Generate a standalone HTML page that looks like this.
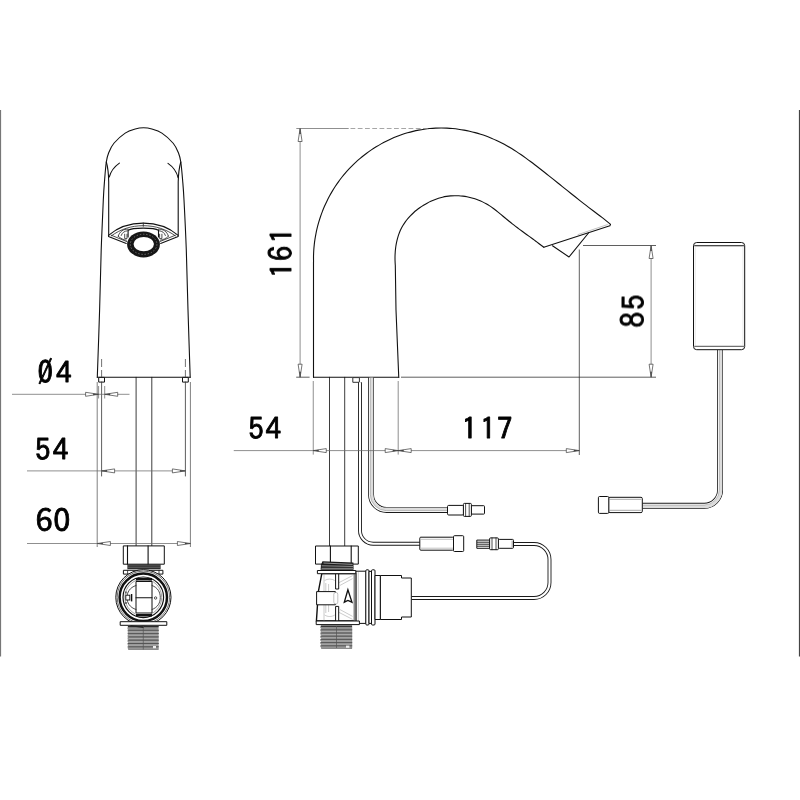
<!DOCTYPE html>
<html lang="en"><head><meta charset="utf-8"><title>Dimensions</title>
<style>
html,body{margin:0;padding:0;background:#fff;}
body{width:800px;height:800px;overflow:hidden;}
svg{display:block}
.k{fill:none;stroke:#111;stroke-width:1.1;stroke-linecap:round;stroke-linejoin:round}
.k2{fill:none;stroke:#222;stroke-width:.8;stroke-linecap:round;stroke-linejoin:round}
.w{fill:#fff;stroke:#111;stroke-width:1;stroke-linejoin:round}
.g{fill:none;stroke:#6a6a6a;stroke-width:.75}
.gd{fill:none;stroke:#888;stroke-width:.75;stroke-dasharray:4.8 2.45}
.ar{fill:#fff;stroke:#3a3a3a;stroke-width:.7;stroke-linejoin:round}
.e{fill:none;stroke:#2a2a2a;stroke-width:.75}
.t{font-family:"IPAGothic","Liberation Sans",sans-serif;font-size:31px;fill:#000;stroke:#000;stroke-width:.85px;stroke-linejoin:round;}
.cb{fill:none;stroke:#111;stroke-width:3.6;stroke-linecap:butt;stroke-linejoin:round}
.cw{fill:none;stroke:#fff;stroke-width:1.9;stroke-linecap:butt;stroke-linejoin:round}
.cm{fill:none;stroke:#999;stroke-width:.5}
</style></head><body>
<svg width="800" height="800" viewBox="0 0 800 800">
<rect width="800" height="800" fill="#fff"/>

<rect x="0" y="110" width="1.1" height="546.5" fill="#777"/>
<rect x="798.9" y="110" width="1.1" height="546.5" fill="#444"/>
<g id="front">
<path class="k" d="M136.1,377.3V546 M151.8,377.3V546" style="stroke:#333;stroke-width:.95"/>
<path class="k" d="M97.30,377.25 C97.68,366.04 98.95,331.21 99.60,310.00 C100.25,288.79 100.58,268.33 101.20,250.00 C101.82,231.67 102.73,211.67 103.30,200.00 C103.87,188.33 104.10,186.33 104.60,180.00 C105.10,173.67 105.63,166.50 106.30,162.00 C106.97,157.50 107.33,156.12 108.60,153.00 C109.87,149.88 111.13,146.57 113.90,143.25 C116.67,139.93 121.65,135.47 125.20,133.10 C128.75,130.72 132.14,129.88 135.20,129.00 C138.26,128.12 140.77,127.80 143.55,127.80 C146.33,127.80 148.84,128.12 151.90,129.00 C154.96,129.88 158.35,130.72 161.90,133.10 C165.45,135.47 170.43,139.93 173.20,143.25 C175.97,146.57 177.23,149.88 178.50,153.00 C179.77,156.12 180.12,157.50 180.80,162.00 C181.48,166.50 182.07,173.67 182.60,180.00 C183.13,186.33 183.38,188.33 184.00,200.00 C184.62,211.67 185.63,231.67 186.30,250.00 C186.97,268.33 187.35,288.79 188.00,310.00 C188.65,331.21 189.83,366.04 190.20,377.25"/>
<path class="k" d="M97.3,377.25H190.2"/>
<path class="k" d="M106.3,162 C107.8,167 108.6,174 108.7,182 V235.2"/>
<path class="k" d="M180.8,162 C179.3,167 178.4,174 178.2,182 V235.2"/>
<path class="k" d="M119.4,163.1 C114.5,166.5 110.8,171.5 109.25,177"/>
<path class="k" d="M168,163.4 C173,166.8 176.6,171.8 178.1,177.6"/>
<path class="k" d="M108.5,235.3 C118,227.2 130,223.1 143.3,223.1 C156.6,223.1 168.6,227.2 178.2,235.3 V236.6 L160.6,243.4 M108.5,235.3 V236.6 L126.3,243.4"/>
<path class="k2" d="M111.4,235.8 C120.5,229.2 131.2,225.7 143.3,225.7 C155.4,225.7 166.1,229.2 175.3,235.8"/>
<path class="k2" d="M143.3,223.1V226.3"/>
<path class="k2" d="M111.2,235.2 L126.8,241.6 M175.4,235.2 L159.9,241.6"/>
<path class="k2" d="M118.2,236.2 C119.5,231.5 123.5,228.8 128.2,229.2 M118.2,236.2 C120.5,238.6 123.5,239.8 126.4,240.2 M168.4,236.2 C167.1,231.5 163.1,228.8 158.4,229.2 M168.4,236.2 C166.1,238.6 163.1,239.8 160.2,240.2"/>
<path class="k2" d="M121.2,235.5 C122.2,232.5 124.5,231 127.3,230.8 M165.4,235.5 C164.4,232.5 162.1,231 159.3,230.8"/>
<path class="k2" d="M124.7,234.2V238.6H127V234.2 M161.9,234.2V238.6H159.6V234.2"/>
<path class="k" d="M128.1,237 V230.2 C132.5,227.4 154.1,227.4 158.5,230.2 V237"/>
<ellipse cx="143.5" cy="244.4" rx="16.4" ry="13" fill="#161616"/>
<ellipse cx="143.6" cy="244.3" rx="13.3" ry="10.1" fill="none" stroke="#777" stroke-width=".9" stroke-dasharray="1.4 1.8"/>
<ellipse cx="143.75" cy="244.1" rx="10.2" ry="7.2" fill="#fff"/>
<rect class="w" x="98.7" y="377.4" width="5.8" height="4.7" stroke-width=".8"/>
<rect class="w" x="182.5" y="377.4" width="5.8" height="4.7" stroke-width=".8"/>
<path class="gd" d="M101.6,359V377 M185.4,359V377" style="stroke:#444;stroke-dasharray:8 3"/>
<rect class="w" x="123.3" y="545.9" width="41" height="18.3"/>
<path class="k" d="M127.5,545.9V564.2 M148.1,545.9V564.2"/>
<rect x="127.4" y="564.4" width="33.2" height="4.8" fill="#2a2a2a"/>
<path d="M128,565.9H160 M128,567.6H160" stroke="#8a8a8a" stroke-width=".5"/>
<rect class="w" x="123.4" y="570.3" width="39.5" height="3.8"/>
<path class="k2" d="M127.6,570.3V574.1 M159,570.3V574.1"/>
<circle class="w" cx="143.4" cy="597.3" r="27.6"/>
<circle cx="143.4" cy="597.3" r="26.2" fill="none" stroke="#333" stroke-width=".7"/>
<circle cx="143.3" cy="597.3" r="23.7" fill="#fff" stroke="#111" stroke-width="2.5"/>
<circle cx="143.3" cy="597.3" r="20.3" fill="none" stroke="#111" stroke-width="1.2"/>
<circle cx="143.3" cy="597.3" r="18.4" fill="none" stroke="#666" stroke-width=".6"/>
<path d="M136,579.3H152 M136,615.3H152" stroke="#111" stroke-width="2.6"/>
<rect class="w" x="136" y="581.5" width="16" height="31.5"/>
<path class="k" d="M136,597.7H152"/>
<path class="k2" d="M136,585.5 C129.5,587.5 127,592.5 127,597.5 C127,602.5 129.5,607.5 136,609.5 M152,585.5 C158,587.5 160.3,592.5 160.3,597.5 C160.3,602.5 158,607.5 152,609.5"/>
<rect x="125.8" y="595.2" width="4" height="4.8" fill="#fff" stroke="#111" stroke-width=".9"/>
<path d="M131.6,594V601.4" stroke="#111" stroke-width="1.4"/>
<path d="M126,591.5V593.5 M126,602V604" stroke="#111" stroke-width="1"/>
<circle cx="155.6" cy="598" r="1.2" fill="#fff" stroke="#111" stroke-width=".7"/>
<rect class="w" x="120.2" y="621.7" width="46.6" height="3.6"/>
<path d="M127.8,626 H158.6 V649.6 H129.2 L127.4,648 L128.6,646.4 L127.4,644.8 L128.6,643.2 L127.4,641.6 L128.6,640 L127.4,638.4 L128.6,636.8 L127.4,635.2 L128.6,633.6 L127.4,632 L128.6,630.4 L127.4,628.8 Z" fill="#909090"/>
<path d="M128,626.6H158.6" stroke="#2a2a2a" stroke-width="1.2"/>
<path d="M127.6,630.30H158.8" stroke="#555" stroke-width="1"/>
<path d="M128.8,631.95H157.8" stroke="#b8b8b8" stroke-width=".7"/>
<path d="M127.6,633.60H158.8" stroke="#555" stroke-width="1"/>
<path d="M128.8,635.25H157.8" stroke="#b8b8b8" stroke-width=".7"/>
<path d="M127.6,636.90H158.8" stroke="#555" stroke-width="1"/>
<path d="M128.8,638.55H157.8" stroke="#b8b8b8" stroke-width=".7"/>
<path d="M127.6,640.20H158.8" stroke="#555" stroke-width="1"/>
<path d="M128.8,641.85H157.8" stroke="#b8b8b8" stroke-width=".7"/>
<path d="M127.6,643.50H158.8" stroke="#555" stroke-width="1"/>
<path d="M128.8,645.15H157.8" stroke="#b8b8b8" stroke-width=".7"/>
<path d="M127.6,646.80H158.8" stroke="#555" stroke-width="1"/>
<path d="M128.8,648.45H157.8" stroke="#b8b8b8" stroke-width=".7"/>
<path d="M128,649.2H158.6" stroke="#666" stroke-width=".9"/>
<path d="M143.3,626V649.5" stroke="#555" stroke-width=".7"/>
<path d="M130.5,625.6 L143.5,627.4" stroke="#222" stroke-width="1.3"/>
<rect x="153" y="646" width="3" height="2.2" fill="#eee"/>
</g>
<g id="fdim">
<path class="g" d="M97.2,382V547 M190.4,382V547" style="stroke:#808080;stroke-width:1"/>
<path class="k2" d="M101.6,382V476 M185.4,382V476" style="stroke:#333"/>
<path class="g" d="M98.6,386V398.5 M104.7,386V398.5"/>
<path class="g" d="M12,394.3H129.5"/>
<polygon class="ar" points="98.60,394.30 85.60,392.30 85.60,396.30"/><polygon points="98.60,394.30 93.14,393.46 93.14,395.14" fill="#444"/>
<polygon class="ar" points="104.70,394.30 117.70,392.30 117.70,396.30"/><polygon points="104.70,394.30 110.16,393.46 110.16,395.14" fill="#444"/>
<path class="g" d="M27,470.9H185.4"/>
<polygon class="ar" points="101.60,470.90 114.60,468.90 114.60,472.90"/><polygon points="101.60,470.90 107.06,470.06 107.06,471.74" fill="#444"/>
<polygon class="ar" points="185.40,470.90 172.40,468.90 172.40,472.90"/><polygon points="185.40,470.90 179.94,470.06 179.94,471.74" fill="#444"/>
<path class="g" d="M27,543.5H190.4"/>
<polygon class="ar" points="97.40,543.50 110.40,541.50 110.40,545.50"/><polygon points="97.40,543.50 102.86,542.66 102.86,544.34" fill="#444"/>
<polygon class="ar" points="190.40,543.50 177.40,541.50 177.40,545.50"/><polygon points="190.40,543.50 184.94,542.66 184.94,544.34" fill="#444"/>
</g>
<g id="side">
<path class="k" d="M329.5,377.3V546 M344.7,377.3V546" style="stroke:#333;stroke-width:.95"/>
<path class="k" d="M313.5,377.2V262 L313.55,262.03 C313.55,261.07 313.49,258.19 313.52,256.28 C313.56,254.37 313.63,252.45 313.75,250.55 C313.87,248.64 314.04,246.74 314.24,244.84 C314.44,242.94 314.69,241.05 314.98,239.16 C315.27,237.28 315.60,235.40 315.97,233.53 C316.34,231.66 316.75,229.80 317.20,227.95 C317.65,226.10 318.14,224.26 318.68,222.43 C319.21,220.61 319.78,218.79 320.38,216.99 C320.99,215.18 321.64,213.39 322.33,211.62 C323.01,209.84 323.73,208.08 324.49,206.34 C325.25,204.59 326.05,202.86 326.89,201.16 C327.72,199.45 328.59,197.75 329.50,196.08 C330.40,194.41 331.34,192.75 332.32,191.12 C333.30,189.49 334.31,187.87 335.36,186.29 C336.40,184.70 337.48,183.13 338.60,181.59 C339.71,180.04 340.86,178.52 342.04,177.03 C343.22,175.54 344.44,174.07 345.68,172.62 C346.93,171.18 348.21,169.77 349.52,168.38 C350.83,167.00 352.17,165.64 353.54,164.31 C354.91,162.98 356.31,161.68 357.74,160.42 C359.17,159.15 360.64,157.91 362.12,156.71 C363.61,155.50 365.12,154.33 366.66,153.19 C368.19,152.05 369.76,150.95 371.34,149.88 C372.93,148.81 374.54,147.77 376.17,146.77 C377.80,145.77 379.45,144.80 381.13,143.87 C382.80,142.94 384.49,142.05 386.20,141.19 C387.91,140.34 389.64,139.52 391.39,138.74 C393.13,137.97 394.90,137.23 396.67,136.53 C398.45,135.83 400.24,135.17 402.04,134.55 C403.85,133.94 405.67,133.36 407.49,132.83 C409.32,132.29 411.16,131.80 413.01,131.36 C414.86,130.91 416.72,130.50 418.59,130.15 C420.45,129.79 422.33,129.47 424.21,129.20 C426.09,128.94 427.98,128.71 429.87,128.54 C431.76,128.36 433.65,128.23 435.55,128.14 C437.45,128.05 439.35,128.01 441.25,128.01 C443.15,128.02 445.05,128.06 446.95,128.15 C448.85,128.24 450.75,128.37 452.65,128.54 C454.54,128.72 456.44,128.93 458.33,129.19 C460.21,129.45 462.10,129.75 463.97,130.09 C465.85,130.43 467.72,130.81 469.58,131.23 C471.44,131.65 473.29,132.11 475.13,132.61 C476.98,133.11 478.81,133.65 480.63,134.23 C482.44,134.80 484.25,135.42 486.04,136.07 C487.84,136.72 489.62,137.42 491.38,138.14 C493.14,138.87 494.89,139.64 496.61,140.44 C498.34,141.24 500.05,142.07 501.74,142.94 C503.43,143.81 505.11,144.72 506.76,145.66 C508.41,146.59 510.05,147.57 511.67,148.56 C513.29,149.55 514.90,150.58 516.49,151.62 C518.09,152.66 519.67,153.74 521.23,154.82 C522.80,155.91 524.36,157.02 525.91,158.13 C527.45,159.25 528.99,160.39 530.52,161.54 C532.05,162.68 533.57,163.84 535.09,165.01 C536.61,166.17 538.12,167.34 539.63,168.52 C541.14,169.69 542.64,170.87 544.14,172.05 C545.65,173.23 547.14,174.42 548.64,175.61 C550.14,176.79 551.63,177.98 553.12,179.17 C554.61,180.36 556.10,181.55 557.59,182.74 C559.08,183.93 560.57,185.13 562.06,186.32 C563.55,187.51 565.03,188.70 566.52,189.89 C568.01,191.08 569.50,192.27 570.99,193.46 C572.47,194.65 573.96,195.83 575.46,197.02 C576.95,198.20 578.44,199.38 579.94,200.56 C581.43,201.74 582.93,202.91 584.43,204.09 C585.93,205.26 587.43,206.42 588.94,207.59 C590.45,208.75 591.96,209.91 593.48,211.06 C594.99,212.21 596.51,213.36 598.04,214.50 C599.56,215.64 601.86,217.33 602.63,217.90 L608.75,222.9 L610.5,224.4"/>
<path class="k" d="M398.75,377.2L396,310 L395.3,265 L395.27,264.99 C395.23,264.32 395.10,262.29 395.06,260.93 C395.02,259.57 395.00,258.19 395.02,256.82 C395.05,255.44 395.10,254.05 395.19,252.67 C395.28,251.29 395.40,249.91 395.56,248.53 C395.73,247.16 395.92,245.78 396.16,244.42 C396.40,243.06 396.68,241.70 397.01,240.36 C397.33,239.03 397.69,237.70 398.10,236.39 C398.51,235.08 398.96,233.79 399.47,232.52 C399.97,231.25 400.52,230.00 401.12,228.79 C401.71,227.57 402.36,226.38 403.06,225.21 C403.76,224.05 404.51,222.92 405.31,221.82 C406.10,220.72 406.94,219.65 407.82,218.60 C408.70,217.56 409.62,216.55 410.58,215.57 C411.53,214.59 412.53,213.64 413.56,212.72 C414.58,211.79 415.64,210.90 416.72,210.04 C417.80,209.18 418.92,208.35 420.05,207.55 C421.18,206.75 422.34,205.98 423.52,205.25 C424.70,204.52 425.90,203.81 427.11,203.15 C428.33,202.49 429.57,201.86 430.82,201.28 C432.07,200.69 433.34,200.14 434.63,199.64 C435.91,199.14 437.21,198.68 438.52,198.27 C439.83,197.86 441.15,197.50 442.49,197.18 C443.82,196.87 445.16,196.61 446.51,196.39 C447.86,196.18 449.22,196.02 450.58,195.90 C451.95,195.78 453.31,195.72 454.68,195.70 C456.05,195.68 457.42,195.70 458.79,195.78 C460.15,195.85 461.52,195.97 462.88,196.14 C464.24,196.30 465.60,196.51 466.94,196.77 C468.29,197.02 469.63,197.32 470.96,197.66 C472.29,198.00 473.61,198.39 474.91,198.81 C476.21,199.24 477.51,199.71 478.78,200.22 C480.05,200.73 481.31,201.28 482.54,201.88 C483.78,202.47 485.00,203.10 486.19,203.77 C487.38,204.44 488.55,205.15 489.70,205.90 C490.85,206.64 491.97,207.43 493.08,208.23 C494.19,209.03 495.27,209.87 496.36,210.72 C497.44,211.57 498.50,212.44 499.57,213.31 C500.63,214.19 501.68,215.08 502.74,215.96 C503.80,216.85 504.85,217.74 505.91,218.62 C506.97,219.50 508.04,220.37 509.10,221.24 C510.17,222.10 511.25,222.96 512.32,223.82 C513.40,224.67 514.48,225.51 515.57,226.35 C516.66,227.18 517.76,228.01 518.86,228.83 C519.96,229.65 521.06,230.46 522.17,231.27 C523.28,232.08 524.39,232.89 525.50,233.69 C526.61,234.50 527.72,235.30 528.84,236.10 C529.95,236.91 531.06,237.71 532.17,238.53 C533.27,239.34 534.38,240.15 535.48,240.98 C536.58,241.80 538.22,243.06 538.77,243.47 L543.8,247.2"/>
<path class="k" d="M313.5,377.2H398.75"/>
<path class="k" d="M610.5,224.4 L609.9,225.8 L543.8,247.2"/>
<path class="k2" d="M607.4,224.6 L578,234.6" style="stroke:#999;stroke-width:.6"/>
<path class="k" d="M552.5,245.75 L569,257 L588.5,233"/>
<rect class="w" x="352.8" y="377.6" width="6.6" height="4.7" stroke-width=".8" style="stroke:#333"/>
</g>
<g id="cables">
<path d="M360.00,382.30 L360.00,530.50 A13.20,13.20 0 0 0 373.20,543.70 L420.00,543.70" fill="none" stroke="#1a1a1a" stroke-width="3.90"/><path d="M360.00,382.30 L360.00,530.50 A13.20,13.20 0 0 0 373.20,543.70 L420.00,543.70" fill="none" stroke="#fff" stroke-width="2.10"/>
<path d="M371.05,377.80 L371.05,494.45 A15.50,15.50 0 0 0 386.55,509.95 L448.00,509.95" fill="none" stroke="#1a1a1a" stroke-width="5.90"/><path d="M371.05,377.80 L371.05,494.45 A15.50,15.50 0 0 0 386.55,509.95 L448.00,509.95" fill="none" stroke="#fff" stroke-width="4.30"/><path d="M371.75,377.80 L371.75,494.45 A14.80,14.80 0 0 0 386.55,509.25 L448.00,509.25" fill="none" stroke="#dcdcdc" stroke-width="2.9"/><path d="M370.30,377.80 L370.30,494.45 A16.25,16.25 0 0 0 386.55,510.70 L448.00,510.70" fill="none" stroke="#8c8c8c" stroke-width=".55"/>
<path d="M411.50,598.00 L534.00,598.00 A15.50,15.50 0 0 0 549.50,582.50 L549.50,559.50 A15.50,15.50 0 0 0 534.00,544.00 L513.00,544.00" fill="none" stroke="#1a1a1a" stroke-width="3.90"/><path d="M411.50,598.00 L534.00,598.00 A15.50,15.50 0 0 0 549.50,582.50 L549.50,559.50 A15.50,15.50 0 0 0 534.00,544.00 L513.00,544.00" fill="none" stroke="#fff" stroke-width="2.10"/>
<path d="M720.05,350.00 L720.05,490.00 A15.80,15.80 0 0 1 704.25,505.80 L642.30,505.80" fill="none" stroke="#1a1a1a" stroke-width="5.90"/><path d="M720.05,350.00 L720.05,490.00 A15.80,15.80 0 0 1 704.25,505.80 L642.30,505.80" fill="none" stroke="#fff" stroke-width="4.30"/><path d="M720.75,350.00 L720.75,490.00 A16.50,16.50 0 0 1 704.25,506.50 L642.30,506.50" fill="none" stroke="#dcdcdc" stroke-width="2.9"/><path d="M719.30,350.00 L719.30,490.00 A15.05,15.05 0 0 1 704.25,505.05 L642.30,505.05" fill="none" stroke="#8c8c8c" stroke-width=".55"/>
</g>
<g id="conn">
<rect class="w" x="447.5" y="505.4" width="16" height="9.6" rx="1.2"/>
<rect class="w" x="471.2" y="505.7" width="13.3" height="8.4" rx=".8"/>
<rect class="w" x="463.4" y="503.4" width="8" height="13" rx="1"/>
<path class="k2" d="M465.6,503.4V516.4 M469.2,503.4V516.4"/>
<rect class="w" x="419.8" y="537.2" width="33.8" height="13" rx="1"/>
<path class="cm" d="M421,539.3H453 M421,548.2H453" style="stroke:#bbb;stroke-width:.9"/>
<rect class="w" x="453.5" y="535.7" width="10.2" height="15.8" rx="1"/>
<rect class="w" x="476.8" y="540.1" width="13" height="8.2"/>
<path d="M477,542.2H489.5 M477,544.2H489.5 M477,546.2H489.5" stroke="#222" stroke-width="1"/>
<rect class="w" x="498.2" y="539.4" width="15.3" height="8.9" rx="1"/>
<rect class="w" x="489.6" y="537.9" width="8.8" height="11.8" rx="1"/>
<path class="k2" d="M492,537.9V549.7 M496,537.9V549.7"/>
<path d="M512.2,540.4V547.6" stroke="#aaa" stroke-width="1.2"/>
<rect class="w" x="608.6" y="497.3" width="33.7" height="15.3" rx="1.3"/>
<path class="cm" d="M609.5,499.4H641.5 M609.5,510.4H641.5" style="stroke:#bbb;stroke-width:1.2"/>
<rect class="w" x="598.4" y="496.5" width="10.4" height="16.9" rx="1.2"/>
</g>
<g id="box">
<rect class="w" x="693.5" y="242.5" width="51.2" height="107.2" rx="3.2"/>
<path class="k" d="M694.6,245.7H743.6"/>
<path class="k2" d="M694.6,346.3H743.6"/>
<path d="M695.2,246V346 M743,246V346" stroke="#ccc" stroke-width=".5" fill="none"/>
</g>
<g id="valve">
<rect class="w" x="355.8" y="571.2" width="10.2" height="52.2"/>
<path class="cm" d="M358.3,572V623"/>
<rect class="w" x="365.8" y="569.8" width="3.2" height="55.2" rx="1"/>
<rect class="w" x="369" y="571.4" width="2.6" height="52"/>
<rect class="w" x="371.5" y="569.8" width="3.5" height="55.2" rx="1"/>
<rect class="w" x="375" y="575.5" width="5.4" height="44"/>
<path class="w" d="M380.4,575.5 H401.5 V578 H411.3 V617 H401.5 V619.5 H380.4 Z"/>
<rect class="w" x="315.5" y="546" width="42.8" height="18.1"/>
<path class="k" d="M330.4,546V564.1 M351.2,546V564.1"/>
<path d="M322.5,561.2 L353.4,562.6 L353.6,569.8 H320.6 L321,564.4 Z" fill="#1c1c1c"/>
<path d="M323.5,563 L352.6,564.4 M321.6,565.8 L353,566.4 M321.5,568.3 L353,568.3" stroke="#c8c8c8" stroke-width=".7"/>
<path class="w" d="M321.8,573.6 H355.8 V621 H316.4 L318.4,591.4 Z" style="stroke-width:1.4"/>
<path d="M324,574V621" stroke="#aaa" stroke-width=".6"/>
<path class="cm" d="M324.6,580.5 C327.6,578.6 331.6,578.6 334.8,580.5 M324.6,615 C327.6,617 331.6,617 334.8,615 M325.8,583V591 M325.8,605V613 M328.6,584V591 M328.6,605V612 M339,582.6 L352.6,575.6 M339,612.4 L352.6,619.4 M340,585.4 L352.6,578.6 M340,609.6 L352.6,616.4"/>
<path d="M354.6,573.8V621" stroke="#888" stroke-width="2.2"/>
<rect class="w" x="335.6" y="573.7" width="3.1" height="15.3" stroke-width=".9"/>
<rect class="w" x="335.6" y="606.4" width="3.1" height="14.6" stroke-width=".9"/>
<rect class="w" x="317.4" y="570.5" width="38.4" height="3.2"/>
<rect class="w" x="316.6" y="591.6" width="18.8" height="13.2"/>
<rect x="333.8" y="592.4" width="4" height="11.6" rx="1.9" fill="#fff" stroke="#999" stroke-width=".6"/>
<path d="M344.3,602.2 L347.9,589.8 L352,602.2 L347.9,600.4 Z" fill="#fff" stroke="#111" stroke-width="1.3" stroke-linejoin="miter"/>
<rect class="w" x="316.2" y="621" width="43.2" height="3.6"/>
<path d="M320.6,625.6 H352.2 V648.6 H322 L320.2,646.8 L321.4,645.2 L320.2,643.6 L321.4,642 L320.2,640.4 L321.4,638.8 L320.2,637.2 L321.4,635.6 L320.2,634 L321.4,632.4 L320.2,630.8 L321.4,629.2 L320.2,627.6 Z" fill="#909090"/>
<path d="M321,626.2H352" stroke="#2a2a2a" stroke-width="1.3"/>
<path d="M320.4,629.80H352.2" stroke="#555" stroke-width="1"/>
<path d="M321.6,631.40H351.4" stroke="#b8b8b8" stroke-width=".7"/>
<path d="M320.4,633.00H352.2" stroke="#555" stroke-width="1"/>
<path d="M321.6,634.60H351.4" stroke="#b8b8b8" stroke-width=".7"/>
<path d="M320.4,636.20H352.2" stroke="#555" stroke-width="1"/>
<path d="M321.6,637.80H351.4" stroke="#b8b8b8" stroke-width=".7"/>
<path d="M320.4,639.40H352.2" stroke="#555" stroke-width="1"/>
<path d="M321.6,641.00H351.4" stroke="#b8b8b8" stroke-width=".7"/>
<path d="M320.4,642.60H352.2" stroke="#555" stroke-width="1"/>
<path d="M321.6,644.20H351.4" stroke="#b8b8b8" stroke-width=".7"/>
<path d="M320.4,645.80H352.2" stroke="#555" stroke-width="1"/>
<path d="M321.6,647.40H351.4" stroke="#b8b8b8" stroke-width=".7"/>
<path d="M321,648.2H352" stroke="#666" stroke-width=".9"/>
<path d="M336.5,626V648" stroke="#555" stroke-width=".7"/>
<rect x="346" y="645.6" width="3.4" height="2.2" fill="#eee"/>
</g>
<g id="sdim">
<path class="g" d="M300.1,128.5V377.2"/>
<path class="g" d="M296.3,128.5H348.7"/>
<path class="gd" d="M350.5,128.5H429"/>
<path class="e" d="M296.2,377.2H309.6"/>
<polygon class="ar" points="300.10,128.50 298.10,141.50 302.10,141.50"/><polygon points="300.10,128.50 299.26,133.96 300.94,133.96" fill="#444"/>
<polygon class="ar" points="300.10,377.20 298.10,364.20 302.10,364.20"/><polygon points="300.10,377.20 299.26,371.74 300.94,371.74" fill="#444"/>
<path class="e" d="M401,377.2H656"/>
<path class="e" d="M583,245.5H656"/>
<path class="g" d="M651.1,245.5V377.2"/>
<polygon class="ar" points="651.10,245.50 649.10,258.50 653.10,258.50"/><polygon points="651.10,245.50 650.26,250.96 651.94,250.96" fill="#444"/>
<polygon class="ar" points="651.10,377.20 649.10,364.20 653.10,364.20"/><polygon points="651.10,377.20 650.26,371.74 651.94,371.74" fill="#444"/>
<path class="e" d="M579.3,249.5V455"/>
<path class="g" d="M233.75,450.6H579.3"/>
<path class="g" d="M313.25,381V454.6 M398.2,381V454.6"/>
<polygon class="ar" points="313.25,450.60 326.25,448.60 326.25,452.60"/><polygon points="313.25,450.60 318.71,449.76 318.71,451.44" fill="#444"/>
<polygon class="ar" points="398.20,450.60 385.20,448.60 385.20,452.60"/><polygon points="398.20,450.60 392.74,449.76 392.74,451.44" fill="#444"/>
<polygon class="ar" points="398.20,450.60 411.20,448.60 411.20,452.60"/><polygon points="398.20,450.60 403.66,449.76 403.66,451.44" fill="#444"/>
<polygon class="ar" points="579.30,450.60 566.30,448.60 566.30,452.60"/><polygon points="579.30,450.60 573.84,449.76 573.84,451.44" fill="#444"/>
</g>
<g id="labels" opacity=".999">
<text class="t" x="37.40 55.98" y="384.2">Ø4</text>
<text class="t" x="35.10 52.70" y="461.3">54</text>
<text class="t" style="font-family:'Noto Sans CJK JP','Liberation Sans',sans-serif;font-size:30.8px" x="35.50 53.30" y="530.8">60</text>
<text class="t" x="248.30 265.60" y="440.1">54</text>
<text class="t" x="461.75 480.25 496.90" y="440.1">117</text>
<text class="t" transform="translate(293,277.85) rotate(-90)" x="0.00 16.80 34.60" y="0">161</text>
<text class="t" transform="translate(645,327.5) rotate(-90)" x="0.00 17.50" y="0">85</text>
</g>
</svg></body></html>
